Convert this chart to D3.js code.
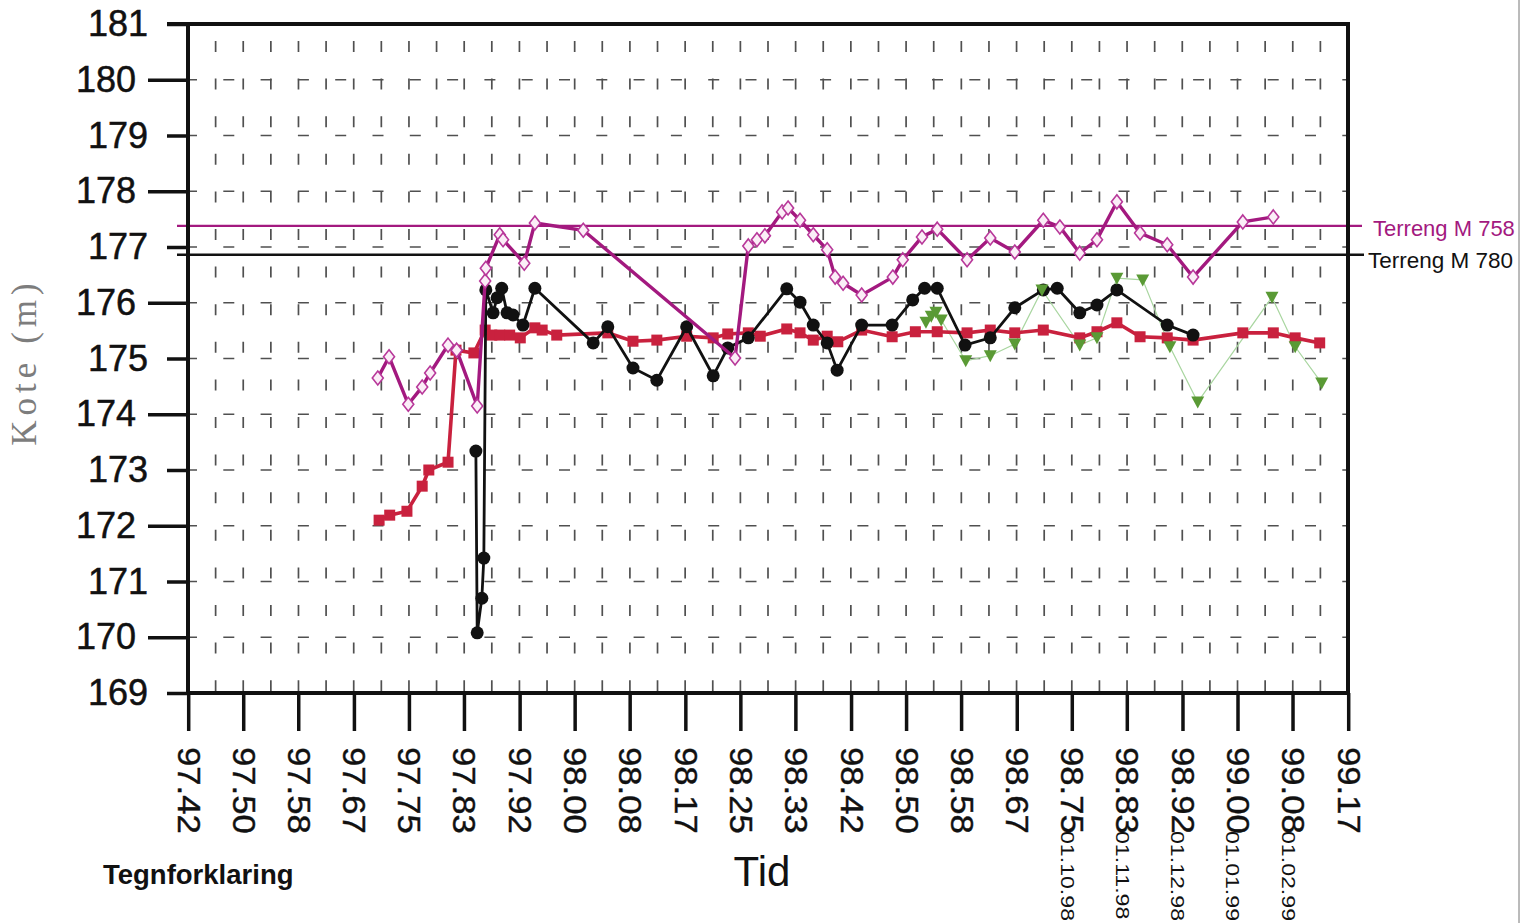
<!DOCTYPE html>
<html>
<head>
<meta charset="utf-8">
<script src="https://cdn.jsdelivr.net/npm/d3@7"></script>
<style>
  html, body { margin: 0; padding: 0; background: #fff; }
  svg { display: block; }
  text { font-family: "Liberation Sans", Arial, sans-serif; }
</style>
</head>
<body>
<svg id="chart" width="1522" height="923"></svg>
<script>
// ---------------- DATA ----------------
const xTickValues = [97.417, 97.5, 97.583, 97.667, 97.75, 97.833, 97.917, 98.0, 98.083, 98.167, 98.25,
                     98.333, 98.417, 98.5, 98.583, 98.667, 98.75, 98.833, 98.917, 99.0, 99.083, 99.167];
const xTickLabels = ["97.42","97.50","97.58","97.67","97.75","97.83","97.92","98.00","98.08","98.17","98.25",
                     "98.33","98.42","98.50","98.58","98.67","98.75","98.83","98.92","99.00","99.08","99.17"];
const dateTicks  = [98.75, 98.833, 98.917, 99.0, 99.083];
const dateLabels = ["01.10.98", "01.11.98", "01.12.98", "01.01.99", "01.02.99"];
const yTickValues = [169, 170, 171, 172, 173, 174, 175, 176, 177, 178, 179, 180, 181];

// reference levels (terrain)
const terrengM758 = 177.38;
const terrengM780 = 176.86;

// M 758 (magenta, open diamonds)  [time (decimal year), level (m)]
const m758 = [
  [97.703,174.65],[97.720,175.03],[97.749,174.18],[97.770,174.49],[97.782,174.74],[97.809,175.24],
  [97.822,175.15],[97.853,174.15],[97.865,176.39],[97.866,176.62],[97.887,177.22],[97.892,177.13],
  [97.924,176.71],[97.940,177.43],[98.013,177.30],[98.242,175.01],[98.262,177.02],[98.275,177.13],
  [98.287,177.20],[98.313,177.63],[98.322,177.70],[98.340,177.48],[98.360,177.22],[98.381,176.95],
  [98.393,176.46],[98.405,176.35],[98.433,176.14],[98.480,176.46],[98.495,176.77],[98.524,177.18],
  [98.547,177.32],[98.592,176.77],[98.627,177.16],[98.664,176.91],[98.707,177.48],[98.732,177.36],
  [98.762,176.89],[98.788,177.13],[98.818,177.81],[98.853,177.25],[98.894,177.04],[98.933,176.46],
  [99.008,177.45],[99.054,177.54]
];

// M 780 (black, filled circles)
const m780 = [
  [97.851,173.34],[97.853,170.08],[97.860,170.70],[97.863,171.42],[97.866,176.23],[97.877,175.82],
  [97.883,176.09],[97.890,176.26],[97.898,175.82],[97.907,175.78],[97.922,175.60],[97.940,176.26],
  [98.028,175.28],[98.050,175.57],[98.088,174.83],[98.124,174.61],[98.169,175.57],[98.209,174.69],
  [98.231,175.19],[98.262,175.37],[98.320,176.25],[98.340,176.01],[98.360,175.60],[98.381,175.28],
  [98.396,174.79],[98.433,175.60],[98.479,175.60],[98.510,176.05],[98.528,176.26],[98.547,176.26],
  [98.589,175.24],[98.627,175.37],[98.664,175.91],[98.707,176.23],[98.728,176.26],[98.762,175.82],
  [98.788,175.96],[98.818,176.23],[98.894,175.60],[98.933,175.42]
];

// red series (filled squares)
const redSeries = [
  [97.705,172.10],[97.721,172.19],[97.747,172.26],[97.770,172.71],[97.780,173.00],[97.809,173.14],
  [97.821,175.15],[97.848,175.10],[97.865,175.51],[97.875,175.42],[97.887,175.42],[97.902,175.42],
  [97.918,175.37],[97.940,175.55],[97.951,175.51],[97.973,175.42],[98.050,175.46],[98.088,175.31],
  [98.124,175.33],[98.169,175.40],[98.209,175.37],[98.231,175.44],[98.262,175.46],[98.280,175.40],
  [98.320,175.53],[98.340,175.46],[98.360,175.33],[98.381,175.40],[98.397,175.30],[98.433,175.51],
  [98.479,175.39],[98.514,175.48],[98.547,175.48],[98.592,175.46],[98.627,175.51],[98.664,175.46],
  [98.707,175.51],[98.762,175.37],[98.788,175.48],[98.818,175.64],[98.853,175.39],[98.894,175.37],
  [98.933,175.33],[99.008,175.46],[99.054,175.46],[99.087,175.37],[99.124,175.28]
];

// green series (down triangles)
const greenSeries = [
  [98.530,175.65],[98.538,175.76],[98.545,175.83],[98.553,175.69],[98.590,174.96],[98.627,175.05],
  [98.664,175.26],[98.705,176.23],[98.762,175.24],[98.788,175.37],[98.818,176.44],[98.857,176.41],
  [98.898,175.21],[98.940,174.22],[99.052,176.10],[99.087,175.21],[99.127,174.56]
];

// ---------------- CHART ----------------
const svg = d3.select("#chart");
const L = 188, R = 1348, T = 24, B = 693;
const x = d3.scaleLinear().domain([97.4167, 99.1667]).range([L, R]);
const y = d3.scaleLinear().domain([169, 181]).range([B, T]);

const MAG = "#a3197f", RED = "#c9213e", GREEN = "#5a9a35", GREENLINE = "#a9d6a0";

svg.append("rect").attr("width", 1522).attr("height", 923).attr("fill", "#fff");

// grid
const grid = svg.append("g");
const halfMonths = d3.range(1, 42).map(k => x.domain()[0] + k / 24);
grid.selectAll("line.v").data(halfMonths).join("line")
  .attr("x1", d => x(d)).attr("x2", d => x(d))
  .attr("y1", T).attr("y2", B)
  .attr("stroke", "#505050").attr("stroke-width", 1.7)
  .attr("stroke-dasharray", "11 26.6").attr("stroke-dashoffset", -17);
grid.selectAll("line.h").data(d3.range(170, 181)).join("line")
  .attr("x1", L - 2).attr("x2", R)
  .attr("y1", d => y(d)).attr("y2", d => y(d))
  .attr("stroke", "#505050").attr("stroke-width", 1.7)
  .attr("stroke-dasharray", "11 26.3");

// reference lines
svg.append("line").attr("x1", 177).attr("x2", 1362)
  .attr("y1", y(terrengM758)).attr("y2", y(terrengM758))
  .attr("stroke", MAG).attr("stroke-width", 2.2);
svg.append("line").attr("x1", 177).attr("x2", 1364)
  .attr("y1", y(terrengM780)).attr("y2", y(terrengM780))
  .attr("stroke", "#111").attr("stroke-width", 2.4);
svg.append("text").attr("x", 1373).attr("y", 236).attr("fill", MAG)
  .attr("font-size", 22).text("Terreng M 758");
svg.append("text").attr("x", 1368).attr("y", 268).attr("fill", "#111")
  .attr("font-size", 22.5).text("Terreng M 780");

// axes
const yEven = yTickValues.filter(v => v % 2 === 0);
const yOdd = yTickValues.filter(v => v % 2 === 1);
function styleAxis(g) {
  g.select(".domain").remove();
  g.selectAll(".tick line").attr("stroke", "#111").attr("stroke-width", 3.5);
  g.selectAll(".tick text").attr("fill", "#111").attr("font-size", 36)
    .attr("stroke", "#111").attr("stroke-width", 0.5);
}
svg.append("g").attr("transform", `translate(${L},0)`)
  .call(d3.axisLeft(y).tickValues(yEven).tickSize(40).tickPadding(12).tickFormat(d3.format("d")))
  .call(styleAxis);
svg.append("g").attr("transform", `translate(${L},0)`)
  .call(d3.axisLeft(y).tickValues(yOdd).tickSize(21).tickPadding(19).tickFormat(d3.format("d")))
  .call(styleAxis);

const xAxis = svg.append("g").attr("transform", `translate(0,${B})`)
  .call(d3.axisBottom(x).tickValues(xTickValues).tickSize(38).tickFormat((d, i) => xTickLabels[i]));
xAxis.select(".domain").remove();
xAxis.selectAll(".tick line").attr("stroke", "#111").attr("stroke-width", 3.5);
xAxis.selectAll(".tick text")
  .attr("y", 0)
  .attr("text-anchor", "start")
  .attr("font-size", 31).attr("fill", "#111")
  .attr("stroke", "#111").attr("stroke-width", 0.4)
  .attr("transform", "translate(0,54) rotate(90) scale(1.12,1)")
  .attr("dy", 11);

// date sub-labels
svg.append("g").selectAll("text").data(dateTicks).join("text")
  .attr("transform", d => `translate(${x(d)},831) rotate(90) scale(1.25,1)`)
  .attr("dy", 11).attr("font-size", 18.5).attr("fill", "#111")
  .text((d, i) => dateLabels[i]);

// frame lines
svg.append("line").attr("x1", L).attr("x2", L).attr("y1", T - 2).attr("y2", B + 2)
  .attr("stroke", "#111").attr("stroke-width", 4);
svg.append("line").attr("x1", L).attr("x2", R + 2).attr("y1", B).attr("y2", B)
  .attr("stroke", "#111").attr("stroke-width", 4);
svg.append("line").attr("x1", L - 21).attr("x2", R + 2).attr("y1", T).attr("y2", T)
  .attr("stroke", "#111").attr("stroke-width", 4);
svg.append("line").attr("x1", R).attr("x2", R).attr("y1", T).attr("y2", B)
  .attr("stroke", "#111").attr("stroke-width", 4);

// series
const line = d3.line().x(d => x(d[0])).y(d => y(d[1]));
const plot = svg.append("g");

plot.append("path").datum(greenSeries).attr("d", line)
  .attr("fill", "none").attr("stroke", GREENLINE).attr("stroke-width", 1.2);

plot.append("path").datum(redSeries).attr("d", line)
  .attr("fill", "none").attr("stroke", RED).attr("stroke-width", 3.6);
plot.selectAll("rect.sq").data(redSeries).join("rect")
  .attr("x", d => x(d[0]) - 5.5).attr("y", d => y(d[1]) - 5.5)
  .attr("width", 11).attr("height", 11).attr("fill", RED);

plot.append("path").datum(m780).attr("d", line)
  .attr("fill", "none").attr("stroke", "#111").attr("stroke-width", 2.8);
plot.selectAll("circle.c").data(m780).join("circle")
  .attr("cx", d => x(d[0])).attr("cy", d => y(d[1])).attr("r", 6.5).attr("fill", "#111");

plot.selectAll("path.tri").data(greenSeries).join("path")
  .attr("d", "M-6.5,-5.5L6.5,-5.5L0,6.5Z")
  .attr("transform", d => `translate(${x(d[0])},${y(d[1])})`)
  .attr("fill", GREEN);

plot.append("path").datum(m758).attr("d", line)
  .attr("fill", "none").attr("stroke", MAG).attr("stroke-width", 3.4);
plot.selectAll("path.dia").data(m758).join("path")
  .attr("d", "M0,-7L5.5,0L0,7L-5.5,0Z")
  .attr("transform", d => `translate(${x(d[0])},${y(d[1])})`)
  .attr("fill", "#fbeef7").attr("stroke", "#b8389a").attr("stroke-width", 1.6);

// titles
svg.append("text").attr("x", 762).attr("y", 886).attr("text-anchor", "middle")
  .attr("font-size", 42).attr("fill", "#111").text("Tid");
svg.append("text").attr("x", 103).attr("y", 884).attr("font-weight", "bold")
  .attr("font-size", 27.5).attr("fill", "#111").text("Tegnforklaring");
svg.append("text").attr("transform", "translate(36,362) rotate(-90)")
  .attr("text-anchor", "middle")
  .style("font-family", "'Liberation Serif', 'DejaVu Serif', serif")
  .attr("font-size", 35).attr("letter-spacing", 5).attr("fill", "#7d7d7d").text("Kote (m)");

// page edge
svg.append("line").attr("x1", 1519).attr("x2", 1519).attr("y1", 0).attr("y2", 923)
  .attr("stroke", "#777").attr("stroke-width", 1);
</script>
</body>
</html>
